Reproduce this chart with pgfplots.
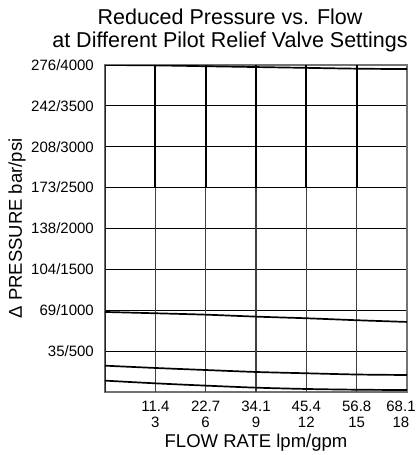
\documentclass[border=0pt]{standalone}
\usepackage{fontspec}
\setmainfont{Liberation Sans}
\usepackage{pgfplots}
\pgfplotsset{compat=1.18}
\begin{document}
\begin{tikzpicture}
\begin{axis}[
  name=ax,
  scale only axis,
  width=302pt, height=327pt,
  xmin=0, xmax=18, ymin=0, ymax=4000,
  xtick={3,6,9,12,15},
  xticklabels={{11.4\\3},{22.7\\6},{34.1\\9},{45.4\\12},{56.8\\15}},
  extra x ticks={18},
  extra x tick labels={{68.1\\18}},
  extra x tick style={xticklabel style={xshift=-6pt}},
  xticklabel style={align=center, font=\fontsize{15}{15.5}\selectfont, inner sep=0pt, anchor=north, yshift=-9pt},
  ytick={500,1000,1500,2000,2500,3000,3500,4000},
  yticklabels={35/500,69/1000,104/1500,138/2000,173/2500,208/3000,242/3500,276/4000},
  yticklabel style={font=\fontsize{15}{16}\selectfont, inner sep=0pt, anchor=east, xshift=-11pt},
  /pgf/number format/assume math mode=true,
  major tick length=0pt,
  axis line style={draw=black!55, line width=1.4pt},
  ymajorgrids,
  grid style={black, line width=0.9pt},
  xlabel={FLOW RATE lpm/gpm},
  ylabel={Δ PRESSURE bar/psi},
  label style={font=\fontsize{18.5}{20}\selectfont},
  xlabel style={at={(axis description cs:0.5,-0.155)}, anchor=center, inner sep=0pt},
  ylabel style={at={(axis description cs:-0.291,0.5)}, anchor=center, inner sep=0pt},
  title={Reduced Pressure vs. Flow\\at Different Pilot Relief Valve Settings},
  title style={at={(axis description cs:0.414,1.088)}, anchor=center, align=center, inner sep=0pt, font=\fontsize{21.5}{23}\selectfont},
]
% vertical grid lines (gray lower part, black upper part)
\foreach \xx in {3,6,9,12,15} {
  \edef\temp{\noexpand\addplot[black!75, line width=1.6pt, forget plot] coordinates {(\xx,0) (\xx,2500)};}
  \temp
  \edef\temp{\noexpand\addplot[black, line width=2pt, forget plot] coordinates {(\xx,2500) (\xx,4000)};}
  \temp
}
\addplot[black!85, line width=1.2pt, forget plot] coordinates {(0,0) (0,4000)};
% curves
\addplot[black, line width=1.7pt, smooth] coordinates {(0,4000) (3,3995) (6,3985) (9,3975) (12,3965) (15,3955) (18,3950)};
\addplot[black, line width=1.7pt, smooth] coordinates {(0,979) (3,963) (6,946) (9,922) (12,902) (15,878) (18,857)};
\addplot[black, line width=1.7pt, smooth] coordinates {(0,322) (3,294) (6,269) (9,245) (12,229) (15,214) (18,208)};
\addplot[black, line width=1.7pt, smooth] coordinates {(0,139) (3,106) (6,78) (9,53) (12,37) (15,28) (18,24)};
\end{axis}
\pgfresetboundingbox
\path[use as bounding box] ([shift={(-105pt,-63pt)}]ax.south west) rectangle ([shift={(9pt,65pt)}]ax.north east);
\end{tikzpicture}
\end{document}
